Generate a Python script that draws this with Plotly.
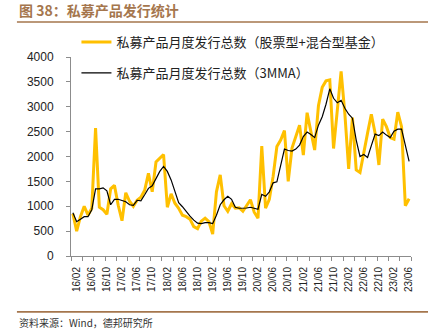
import plotly.graph_objects as go

# Monthly categories 2016/01 .. 2023/06
months = [f"{y:02d}/{m:02d}" for y in range(16, 24) for m in range(1, 13)][:90]

# 私募产品月度发行总数（股票型+混合型基金）
issued = [850, 500, 790, 1000, 820, 960, 2570, 980, 930, 840, 1350, 1420,
          1020, 710, 1270, 1100, 1000, 1120, 1180, 1320, 1660, 1290, 1890, 1960,
          2040, 980, 1250, 1060, 960, 820, 790, 740, 590, 550, 700, 760,
          690, 440, 1290, 1630, 1010, 900, 1050, 960, 970, 900, 1030, 1130,
          880, 760, 2210, 960, 1140, 1600, 2200, 2330, 2520, 1500, 2170, 2400,
          2630, 2030, 2880, 2500, 2130, 3020, 3390, 3520, 3540, 2160, 2950, 3710,
          2850, 1750, 2780, 1730, 1680, 2100, 2470, 2850, 2470, 1830, 2750, 2600,
          2380, 2350, 2890, 2600, 1010, 1150]

# 私募产品月度发行总数（3MMA）
ma3 = [870, 690, 740, 790, 790, 930, 1350, 1350, 1370, 1310, 1030, 1140,
       1140, 1110, 1090, 1030, 1020, 1120, 1110, 1230, 1360, 1410, 1560, 1700,
       1800, 1700, 1530, 1290, 1070, 990, 890, 800, 720, 660, 650, 670,
       670, 650, 820, 1030, 1130, 1200, 1140, 980, 960, 960, 965, 980,
       960, 940, 1240, 1200, 1290, 1470, 1490, 1830, 2150, 2120, 2110, 2150,
       2230, 2400, 2490, 2440, 2380, 2630, 2800, 3050, 3360, 3170, 3080, 3130,
       2970, 2850, 2770, 2330, 2000, 2040, 1980, 2220, 2450, 2420, 2490, 2430,
       2380, 2510, 2550, 2550, 2230, 1900]

tick_labels = ["16/02", "16/06", "16/10", "17/02", "17/06", "17/10", "18/02", "18/06",
               "18/10", "19/02", "19/06", "19/10", "20/02", "20/06", "20/10", "21/02",
               "21/06", "21/10", "22/02", "22/06", "22/10", "23/02", "23/06"]

name1 = "私募产品月度发行总数（股票型+混合型基金）"
name2 = "私募产品月度发行总数（3MMA）"
title = "图 38：私募产品发行统计"
source = "资料来源：Wind，德邦研究所"

xpos = list(range(len(months)))
tickvals = [months.index(t) for t in tick_labels]

LAT = "Liberation Sans, Arial, Noto Sans CJK SC"
CJK = "Noto Sans CJK SC, Liberation Sans"
AXC = "#8c8c8c"
BROWN = "#A5764D"

fig = go.Figure()
fig.add_trace(go.Scatter(x=xpos, y=issued, mode="lines", name=name1,
                         line=dict(color="#FFC000", width=3), legend="legend"))
fig.add_trace(go.Scatter(x=xpos, y=ma3, mode="lines", name=name2,
                         line=dict(color="#000000", width=1.2), legend="legend2"))

fig.update_layout(
    width=448, height=334,
    margin=dict(l=71, r=37, t=57, b=78),
    plot_bgcolor="white", paper_bgcolor="white",
    showlegend=True,
    legend=dict(x=0.016, y=1.075, xanchor="left", yanchor="middle",
                bgcolor="rgba(0,0,0,0)", font=dict(family=CJK, size=13, color="#222")),
    legend2=dict(x=0.016, y=0.92, xanchor="left", yanchor="middle",
                 bgcolor="rgba(0,0,0,0)", font=dict(family=CJK, size=13, color="#222")),
    xaxis=dict(range=[-0.5, len(months) - 0.5], showgrid=False, zeroline=False,
               showline=True, linecolor=AXC, linewidth=1,
               tickmode="array", tickvals=tickvals, ticktext=tick_labels,
               ticks="", tickangle=-90, ticklabelstandoff=6,
               tickfont=dict(family=LAT, size=10, color="#222"),
               minor=dict(ticks="outside", ticklen=4, tickcolor=AXC, tickwidth=1,
                          dtick=3, tick0=-0.5, showgrid=False)),
    yaxis=dict(range=[0, 4000], dtick=500, showgrid=False, zeroline=False,
               showline=True, linecolor=AXC, linewidth=1,
               ticks="outside", ticklen=4, tickcolor=AXC, ticklabelstandoff=10,
               tickfont=dict(family=LAT, size=12, color="#222")),
)

fig.add_annotation(xref="paper", yref="paper", x=-0.159, y=1.236, xanchor="left", yanchor="middle",
                   text=f"<b>{title}</b>", showarrow=False,
                   font=dict(family=CJK, size=14, color=BROWN))
fig.add_annotation(xref="paper", yref="paper", x=-0.159, y=-0.332, xanchor="left", yanchor="middle",
                   text=source, showarrow=False,
                   font=dict(family=CJK, size=10, color="#333"))
fig.add_shape(type="line", xref="paper", yref="paper", x0=-0.159, x1=1.05, y0=1.176, y1=1.176,
              line=dict(color=BROWN, width=1.6))
fig.add_shape(type="line", xref="paper", yref="paper", x0=-0.159, x1=1.05, y0=-0.281, y1=-0.281,
              line=dict(color=BROWN, width=1.6))

fig.write_html("out.html")
